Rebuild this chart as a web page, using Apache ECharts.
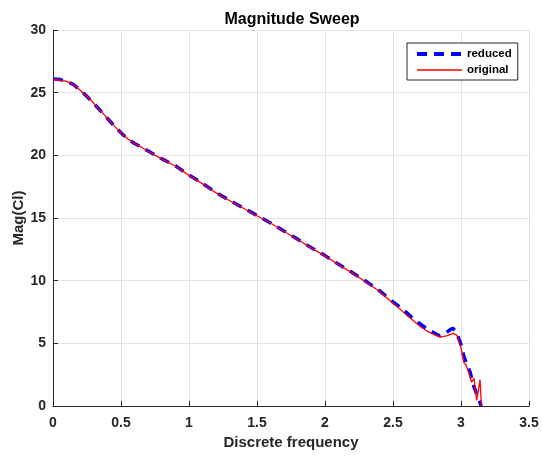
<!DOCTYPE html>
<html>
<head>
<meta charset="utf-8">
<script src="https://cdn.jsdelivr.net/npm/echarts@6/dist/echarts.min.js"></script>
<style>
html,body{margin:0;padding:0;background:#fff;}
#chart{width:542px;height:457px;}
</style>
</head>
<body>
<div id="chart"></div>
<script>
var xTicks = [0, 0.5, 1, 1.5, 2, 2.5, 3, 3.5];
var yTicks = [0, 5, 10, 15, 20, 25, 30];

var reducedX = [0,0.05,0.1,0.15,0.2,0.25,0.3,0.35,0.4,0.45,0.5,0.55,0.6,0.65,0.7,0.8,0.9,1.0,1.1,1.2,1.3,1.4,1.5,1.6,1.7,1.8,1.9,2.0,2.1,2.2,2.3,2.4,2.5,2.55,2.6,2.65,2.7,2.75,2.8,2.84,2.88,2.92,2.94,2.96,2.98,3.0,3.02,3.04,3.066,3.09,3.11,3.127,3.15];
var reducedY = [26.1,26.05,25.9,25.65,25.2,24.7,24.15,23.55,22.95,22.35,21.8,21.3,20.95,20.65,20.35,19.72,19.17,18.42,17.75,17.02,16.4,15.8,15.2,14.6,13.95,13.3,12.62,12.0,11.3,10.65,9.95,9.2,8.3,7.9,7.45,6.95,6.55,6.15,5.85,5.6,5.75,6.1,6.2,6.0,5.5,4.9,4.0,3.4,2.74,1.7,1.1,0.6,0];

var originalX = [0,0.05,0.1,0.15,0.2,0.25,0.3,0.35,0.4,0.45,0.5,0.55,0.6,0.65,0.7,0.8,0.9,1.0,1.1,1.2,1.3,1.4,1.5,1.6,1.7,1.8,1.9,2.0,2.1,2.2,2.3,2.4,2.5,2.55,2.6,2.65,2.7,2.75,2.8,2.85,2.9,2.94,2.97,2.99,3.005,3.02,3.037,3.054,3.078,3.096,3.115,3.13,3.14,3.15];
var originalY = [26.05,26.0,25.9,25.65,25.2,24.7,24.15,23.55,22.95,22.35,21.8,21.3,20.95,20.65,20.33,19.7,19.15,18.4,17.72,17.0,16.38,15.78,15.18,14.6,13.92,13.28,12.6,11.98,11.27,10.62,9.9,9.15,8.2,7.75,7.25,6.8,6.35,5.98,5.72,5.5,5.62,5.8,5.65,5.05,4.4,3.5,3.27,2.74,1.9,2.2,0.45,1.4,2.1,0];

function pairs(xs, ys){ var out=[]; for(var i=0;i<xs.length;i++){ out.push([xs[i], ys[i]]); } return out; }

var FONT = '"Liberation Sans", Arial, sans-serif';
var TXT = '#262626';

var chart = echarts.init(document.getElementById('chart'), null, {renderer:'canvas'});
chart.setOption({
  animation: false,
  backgroundColor: '#ffffff',
  title: {
    text: 'Magnitude Sweep',
    left: 287, top: 7, textAlign: 'center',
    textStyle: {fontFamily: FONT, fontWeight: 'bold', fontSize: 16, color: '#000'}
  },
  legend: {
    data: [
      {name: 'reduced', lineStyle: {width: 4}},
      {name: 'original', lineStyle: {width: 1.3}}
    ],
    orient: 'vertical',
    left: 407, top: 43,
    padding: [5, 6, 4, 8],
    itemGap: 4,
    itemWidth: 45,
    itemHeight: 14,
    backgroundColor: '#ffffff',
    borderColor: '#262626',
    borderWidth: 1,
    borderRadius: 0,
    itemStyle: {opacity: 0},
    textStyle: {fontFamily: FONT, fontWeight: 'bold', fontSize: 11.5, color: '#000'}
  },
  grid: {left: 53, right: 13, top: 30, bottom: 51, containLabel: false},
  xAxis: {
    type: 'value', min: 0, max: 3.5, interval: 0.5,
    name: 'Discrete frequency', nameLocation: 'middle', nameGap: 28,
    nameTextStyle: {fontFamily: FONT, fontWeight: 'bold', fontSize: 15, color: TXT},
    axisLine: {show: true, onZero: false, lineStyle: {color: '#262626', width: 1}},
    axisTick: {show: true, inside: true, length: 5, lineStyle: {color: '#262626'}},
    axisLabel: {fontFamily: FONT, fontWeight: 'bold', fontSize: 14, color: TXT, margin: 10,
      formatter: function(v){ return String(v); }},
    splitLine: {show: true, lineStyle: {color: '#e3e3e3', width: 1}}
  },
  yAxis: {
    type: 'value', min: 0, max: 30, interval: 5,
    name: 'Mag(Cl)', nameLocation: 'middle', nameGap: 27, nameMoveOverlap: false,
    nameTextStyle: {fontFamily: FONT, fontWeight: 'bold', fontSize: 15, color: TXT},
    axisLine: {show: true, onZero: false, lineStyle: {color: '#262626', width: 1}},
    axisTick: {show: true, inside: true, length: 5, lineStyle: {color: '#262626'}},
    axisLabel: {fontFamily: FONT, fontWeight: 'bold', fontSize: 14, color: TXT, margin: 7},
    splitLine: {show: true, lineStyle: {color: '#e3e3e3', width: 1}}
  },
  series: [
    {
      name: 'reduced', type: 'line', data: pairs(reducedX, reducedY),
      showSymbol: false, symbol: 'none', smooth: false,
      lineStyle: {color: '#0000ff', width: 3.5, type: [10, 7]},
      itemStyle: {color: '#0000ff'},
      z: 2
    },
    {
      name: 'original', type: 'line', data: pairs(originalX, originalY),
      showSymbol: false, symbol: 'none', smooth: false,
      lineStyle: {color: '#ff0000', width: 1.3},
      itemStyle: {color: '#ff0000'},
      z: 3
    }
  ]
});
</script>
</body>
</html>
